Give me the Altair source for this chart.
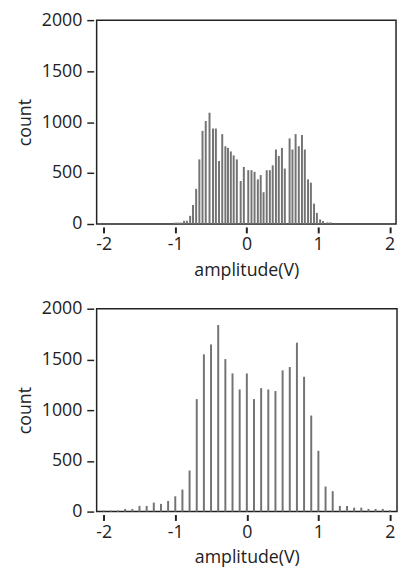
import altair as alt
import pandas as pd

# Top histogram (fine bins): bin centres (V) and counts
top_amp = [-1.000, -0.973, -0.943, -0.916, -0.876, -0.836, -0.791, -0.751, -0.707,
           -0.662, -0.618, -0.573, -0.520, -0.471, -0.431, -0.387, -0.342, -0.298,
           -0.262, -0.222, -0.182, -0.138, -0.084, -0.040, 0.022, 0.067, 0.110,
           0.156, 0.196, 0.236, 0.280, 0.324, 0.364, 0.409, 0.449, 0.493, 0.533,
           0.600, 0.640, 0.684, 0.729, 0.773, 0.813, 0.858, 0.898, 0.942, 0.982,
           1.027, 1.067, 1.129, 1.173]
top_count = [13, 13, 13, 13, 32, 32, 80, 186, 345,
             634, 914, 1011, 1092, 937, 937, 618, 882, 763,
             747, 712, 673, 634, 422, 560, 528, 528, 512,
             438, 480, 312, 528, 528, 576, 731, 667, 747, 544,
             840, 731, 882, 763, 873, 731, 438, 406, 200, 109,
             45, 29, 16, 16]

# Bottom histogram (coarse bins)
bot_amp = [-2.0, -1.9, -1.8, -1.7, -1.6, -1.5, -1.4, -1.3, -1.2, -1.1,
           -1.0, -0.9, -0.8, -0.7, -0.6, -0.5, -0.4, -0.3, -0.2, -0.1,
           0.0, 0.1, 0.2, 0.3, 0.4, 0.5, 0.6, 0.7, 0.8, 0.9,
           1.0, 1.1, 1.2, 1.3, 1.4, 1.5, 1.6, 1.7, 1.8, 1.9, 2.0]
bot_count = [10, 10, 10, 26, 26, 56, 56, 89, 76, 105,
             151, 217, 405, 1109, 1550, 1648, 1839, 1503, 1362, 1204,
             1362, 1109, 1217, 1204, 1188, 1392, 1425, 1665, 1329, 947,
             599, 247, 201, 56, 56, 39, 39, 26, 26, 26, 13]

x_ticks = [-2, -1, 0, 1, 2]
y_ticks = [0, 500, 1000, 1500, 2000]

FONT = "Open Sans"
INK = "#222222"


def panel(amp, count, w, h, dom):
    df = pd.DataFrame({"amp": amp, "count": count})
    return alt.Chart(df).mark_bar(size=2, color="#737373").encode(
        x=alt.X("amp:Q",
                scale=alt.Scale(domain=dom, nice=False, zero=False),
                axis=alt.Axis(values=x_ticks, title="amplitude(V)",
                              labelExpr="'' + datum.value",
                              tickSize=6, tickWidth=2, labelPadding=3,
                              titlePadding=8, labelFlush=False, labelOverlap=False)),
        y=alt.Y("count:Q",
                scale=alt.Scale(domain=[0, 2000], nice=False),
                axis=alt.Axis(values=y_ticks, title="count",
                              labelExpr="'' + datum.value",
                              tickSize=7, tickWidth=1.5, labelPadding=5,
                              titlePadding=7)),
    ).properties(width=w, height=h)


top = panel(top_amp, top_count, 304, 207, [-2.03, 2.02])
bottom = panel(bot_amp, bot_count, 305, 206, [-2.03, 2.03])

chart = alt.vconcat(top, bottom, spacing=19).properties(
    padding={"left": 8, "top": -2, "right": 0, "bottom": 0}
).configure_view(
    stroke=INK, strokeWidth=1.5
).configure_axis(
    domain=False, grid=False, offset=3,
    labelFont=FONT, labelFontSize=18, labelColor=INK,
    titleFont=FONT, titleFontSize=18, titleFontWeight="normal", titleColor=INK,
    tickColor=INK,
)

chart.save("out.html", embed_options={"renderer": "svg", "actions": False})
